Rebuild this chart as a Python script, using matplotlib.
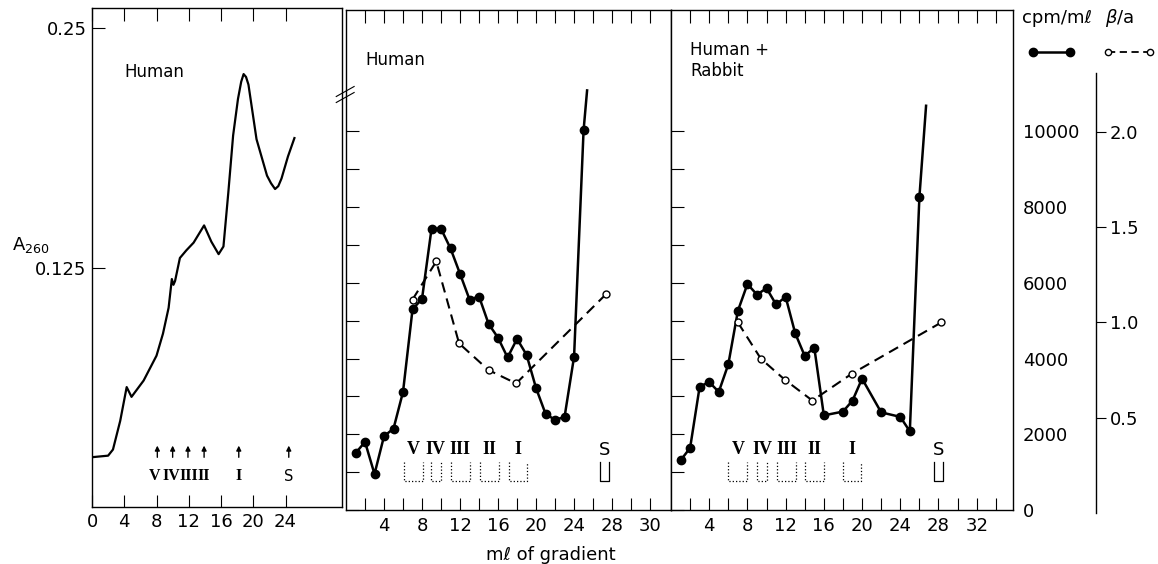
import numpy as np
import matplotlib
matplotlib.use('Agg')
import matplotlib.pyplot as plt
from matplotlib.lines import Line2D

plt.rcParams['font.family'] = 'DejaVu Sans'
plt.rcParams['axes.linewidth'] = 1.0

W, H = 1158, 564

# ---- left panel: A260 trace (Human)
a_ml = [0, 2.0, 2.6, 3.5, 4.3, 4.9, 6.4, 8.0, 8.8, 9.5, 9.9, 10.1, 10.3, 10.9,
        11.7, 12.6, 13.9, 14.8, 15.7, 16.3, 16.9, 17.5, 18.1, 18.5, 18.8, 19.1,
        19.4, 20.4, 21.7, 22.2, 22.7, 23.1, 23.5, 24.3, 25.1]
a260 = [0.026, 0.0268, 0.030, 0.045, 0.0626, 0.0575, 0.066, 0.079, 0.0905, 0.104,
        0.119, 0.116, 0.118, 0.130, 0.134, 0.138, 0.147, 0.1385, 0.132, 0.136,
        0.164, 0.194, 0.213, 0.222, 0.226, 0.2245, 0.2205, 0.192, 0.173, 0.169,
        0.166, 0.1675, 0.1715, 0.183, 0.1926]
arrow_ml = [8.1, 10.0, 11.9, 13.9, 18.2, 24.4]
arrow_lbl_ml = [7.8, 9.9, 12.0, 13.9, 18.2, 24.4]
frac_names = ['V', 'IV', 'III', 'II', 'I', 'S']

# ---- middle panel: Human
h_ml = list(range(1, 26))
h_cpm = [1500, 1800, 950, 1950, 2150, 3120, 5300, 5580, 7430, 7430, 6910, 6240,
         5560, 5640, 4920, 4550, 4030, 4520, 4100, 3220, 2540, 2380, 2460, 4050, 10030]
h_tail_ml, h_tail_cpm = 25.37, 11085
h_ba_ml = [7.0, 9.5, 11.9, 15.0, 17.9, 27.4]
h_ba = [1.12, 1.32, 0.89, 0.75, 0.68, 1.15]
h_boxes = [(6.1, 8.1), (8.9, 10.0), (11.0, 13.0), (14.1, 16.1), (17.1, 19.0), (26.7, 27.7)]

# ---- right panel: Human + Rabbit
r_ml = [1, 2, 3, 4, 5, 6, 7, 8, 9, 10, 11, 12, 13, 14, 15, 16, 18, 19, 20, 22, 24, 25, 26]
r_cpm = [1310, 1640, 3260, 3380, 3120, 3850, 5260, 5970, 5690, 5860, 5430, 5630,
         4670, 4070, 4290, 2500, 2600, 2890, 3470, 2580, 2460, 2080, 8260]
r_tail_ml, r_tail_cpm = 26.7, 10680
r_ba_ml = [7.0, 9.4, 11.9, 14.8, 18.9, 28.3]
r_ba = [1.0, 0.81, 0.70, 0.59, 0.73, 1.0]
r_boxes = [(6.0, 8.0), (9.0, 10.1), (11.1, 13.1), (14.0, 16.0), (18.0, 19.9), (27.5, 28.5)]

cpm_lim = (50, 13210)
ba_lim = (0.016, 2.639)
FS = 13
ROMAN = 'Liberation Serif'


def fx(px):
    return px / W


def fy(py):
    return 1 - py / H


def frac_font(nm):
    # roman numerals in a bold serif, the S (supernatant) in plain sans
    if nm == 'S':
        return dict(family='DejaVu Sans', fontweight='normal')
    return dict(family=ROMAN, fontweight='bold')


fig = plt.figure(figsize=(W / 100, H / 100), dpi=100, facecolor='white')

# left
axL = fig.add_axes([fx(92), fy(507), fx(342) - fx(92), fy(8) - fy(507)])
axL.plot(a_ml, a260, color='k', lw=1.6)
axL.set_xlim(0, 31.0)
axL.set_ylim(0, 0.2605)
axL.set_xticks([0, 4, 8, 12, 16, 20, 24])
axL.set_yticks([0.125, 0.25])
axL.set_yticklabels(['0.125', '0.25'])
axL.tick_params(direction='in', length=9, width=0.8, top=True, labelsize=FS, pad=4)
for xm, xl, nm in zip(arrow_ml, arrow_lbl_ml, frac_names):
    axL.annotate('', xy=(xm, 0.0335), xytext=(xm, 0.0245),
                 arrowprops=dict(arrowstyle='-|>', color='k', lw=1.0, mutation_scale=7))
    axL.text(xl, 0.016, nm, ha='center', va='center',
             fontsize=11.5 if nm != 'S' else 10.5, **frac_font(nm))
axL.text(4.0, 0.227, 'Human', fontsize=12, va='center')
fig.text(0.010, fy(245), r'A$_{260}$', fontsize=FS, va='center')


def panel(rect, ml, cpm, tail, ba_ml, ba, boxes, xmax, majors, labels, minors):
    ax = fig.add_axes(rect)
    ax.plot(list(ml) + [tail[0]], list(cpm) + [tail[1]], color='k', lw=1.8)
    ax.plot(ml, cpm, 'o', color='k', ms=6)
    ax.set_xlim(0, xmax)
    ax.set_ylim(*cpm_lim)
    ax.set_xticks(majors)
    ax.set_xticklabels(labels)
    ax.set_xticks(minors, minor=True)
    ax.set_yticks([0, 2000, 4000, 6000, 8000, 10000])
    ax.set_yticks([1000, 3000, 5000, 7000, 9000], minor=True)
    ax.tick_params(which='both', direction='in', length=9, width=0.8,
                   top=True, right=True, labelsize=FS, labelleft=False)
    ax.tick_params(axis='x', pad=5)
    axb = ax.twinx()
    axb.set_ylim(*ba_lim)
    axb.plot(ba_ml, ba, color='k', lw=1.5, ls=(0, (5, 3)), marker='o', ms=5,
             mfc='white', mec='k', mew=1.0)
    axb.axis('off')
    for (a, b), nm in zip(boxes, frac_names):
        ls = '-' if nm == 'S' else ':'
        ax.plot([a, a, b, b], [1280, 770, 770, 1280], color='k', lw=0.9, ls=ls)
        ax.text((a + b) / 2, 1590, nm, ha='center', va='center', fontsize=13,
                **frac_font(nm))
    return ax


axM = panel([fx(346), fy(510), fx(671) - fx(346), fy(10) - fy(510)],
            h_ml, h_cpm, (h_tail_ml, h_tail_cpm), h_ba_ml, h_ba, h_boxes, 34.2,
            [4, 8, 12, 16, 20, 24, 28, 32], ['4', '8', '12', '16', '20', '24', '28', '30'],
            [2, 6, 10, 14, 18, 22, 26, 30])
axM.text(2.0, 11900, 'Human', fontsize=12, va='center')
for dy in (0.0, 0.012):
    axM.plot([-0.03, 0.025], [0.815 + dy, 0.835 + dy], color='k', lw=0.8,
             transform=axM.transAxes, clip_on=False)

axR = panel([fx(671), fy(510), fx(1013) - fx(671), fy(10) - fy(510)],
            r_ml, r_cpm, (r_tail_ml, r_tail_cpm), r_ba_ml, r_ba, r_boxes, 35.8,
            [4, 8, 12, 16, 20, 24, 28, 32], ['4', '8', '12', '16', '20', '24', '28', '32'],
            [2, 6, 10, 14, 18, 22, 26, 30, 34])
axR.tick_params(axis='y', labelright=True, pad=7)
for t in axR.get_yticklabels():
    t.set_horizontalalignment('left')
axR.text(2.0, 11870, 'Human +\nRabbit', fontsize=12, va='center', linespacing=1.25)

# beta/a axis
axB = fig.add_axes([0.90, fy(513), fx(1096) - 0.90, fy(73) - fy(513)])
axB.patch.set_visible(False)
for s in ('top', 'left', 'bottom'):
    axB.spines[s].set_visible(False)
axB.set_ylim(0, (513 - 73) / 190.6)
axB.set_xticks([])
axB.set_yticks([0.5, 1.0, 1.5, 2.0])
axB.set_yticklabels(['0.5', '1.0', '1.5', '2.0'])
axB.yaxis.tick_right()
axB.tick_params(axis='y', direction='out', length=7, width=0.8, labelsize=FS, pad=3)

# legend keys
fig.text(fx(1022), fy(18), 'cpm/mℓ', fontsize=FS, va='center')
fig.text(fx(1105), fy(18), r'$\beta$/a', fontsize=FS, va='center')
fig.add_artist(Line2D([fx(1033), fx(1070)], [fy(52), fy(52)], color='k', lw=1.8,
                      marker='o', ms=6))
fig.add_artist(Line2D([fx(1108), fx(1150)], [fy(52), fy(52)], color='k', lw=1.3,
                      ls=(0, (4, 2.5)), marker='o', ms=4.5, mfc='white', mew=1.0))

fig.text(fx(551), fy(555), 'mℓ of gradient', fontsize=FS, ha='center', va='center')

fig.savefig('out.png', dpi=100, facecolor='white')
